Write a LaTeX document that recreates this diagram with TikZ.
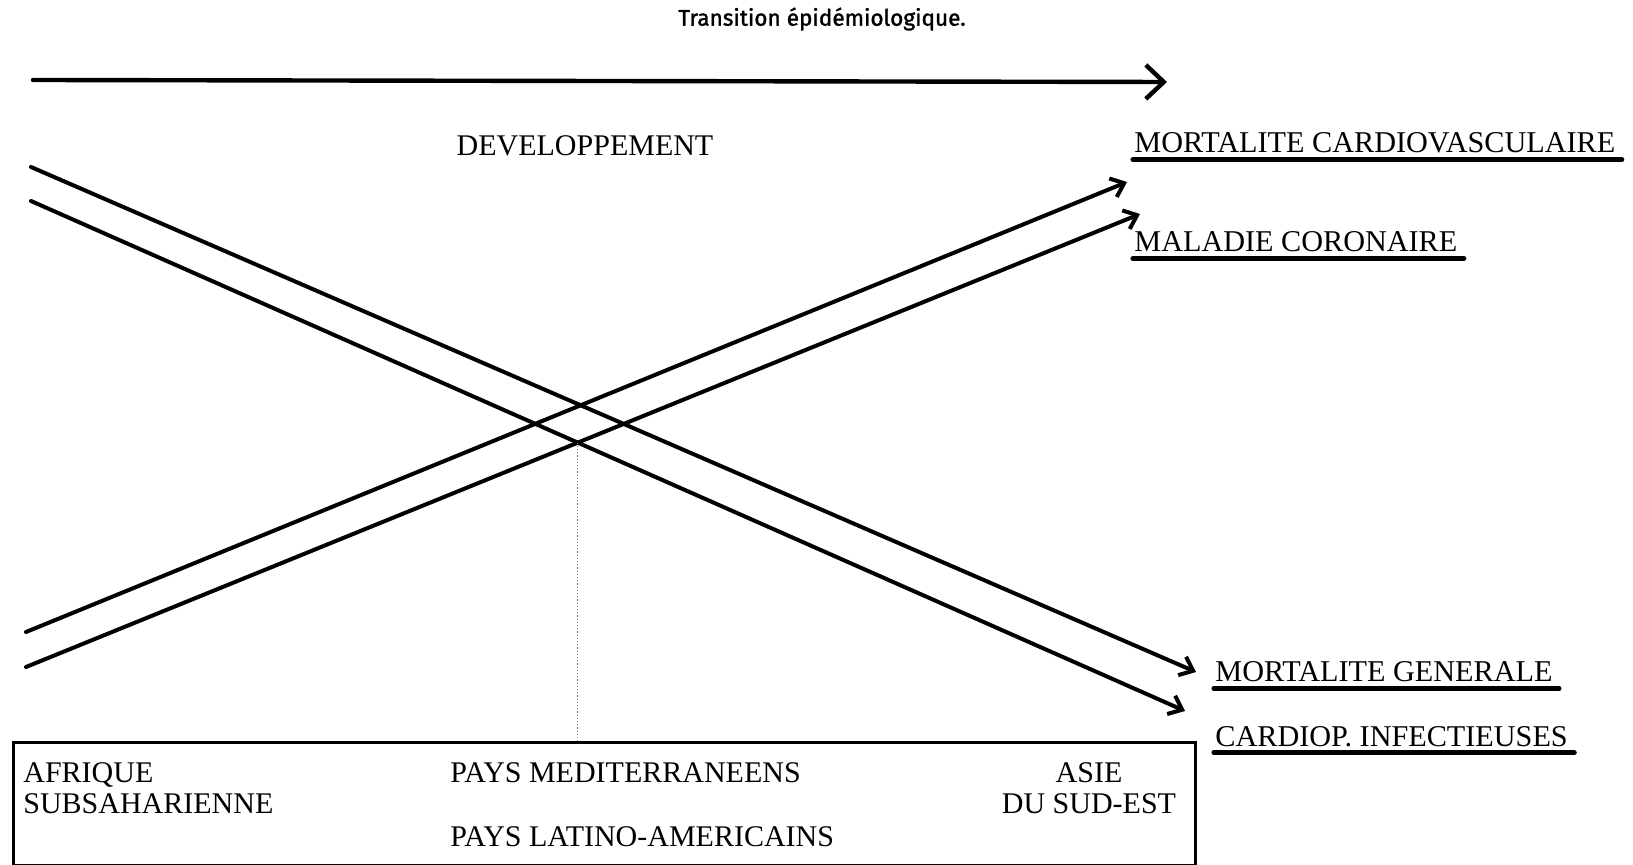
\documentclass[tikz,border=0pt]{standalone}
\usepackage{fontspec}
\setmainfont{Liberation Serif}
\newfontfamily\titlefont[FakeBold=1.4]{Fira Sans}
\usetikzlibrary{arrows.meta}
\usetikzlibrary{calc}

\begin{document}
\begin{tikzpicture}[x=0.5pt,y=-0.5pt,
        trend/.style={line width=2pt, line cap=round, -{Straight Barb[length=6pt,width=10pt]}},
        endlabel/.style={inner sep=0pt, anchor=base west, font=\fontsize{15.1}{15.5}\selectfont},
        regionlabel/.style={inner sep=0pt, font=\fontsize{15}{15.5}\selectfont},
        underline/.style={line width=2.6pt, line cap=round}]
        \newcommand{\transulshift}{-3.3pt}
        \useasboundingbox (0,0) rectangle (1633,865);
        % title and development axis
        \node[inner sep=0pt, font=\titlefont\fontsize{11.3}{12}\selectfont] (title) at (822,19) {Transition épidémiologique.};
        \coordinate (devstart) at (33,80);
        \coordinate (devend) at (1167,82);
        \draw[line width=2.2pt, line cap=round, -{Straight Barb[length=9pt,width=17pt]}] (devstart) -- (devend);
        \node[regionlabel, anchor=base] (dev) at (585,156) {DEVELOPPEMENT};
        % right hand labels
        \node[endlabel] (cardio) at (1134,153) {MORTALITE CARDIOVASCULAIRE};
        \node[endlabel] (coro) at (1134,252) {MALADIE CORONAIRE};
        \node[endlabel] (gen) at (1215,682) {MORTALITE GENERALE};
        \node[endlabel] (infect) at (1215,746) {CARDIOP. INFECTIEUSES};
        \foreach \lab in {cardio,coro,gen,infect}
            \draw[underline] ([xshift=-0.5pt,yshift=\transulshift]\lab.base west) -- ([xshift=3pt,yshift=\transulshift]\lab.base east);
        % the four trends
        \coordinate (cardiostart) at (26,632);
        \coordinate (cardioend) at (1127,182);
        \coordinate (corostart) at (26,667);
        \coordinate (coroend) at (1140,214);
        \coordinate (genstart) at (31,167);
        \coordinate (genend) at (1196,672);
        \coordinate (infectstart) at (31,201);
        \coordinate (infectend) at (1185,711);
        \draw[trend] (cardiostart) -- (cardioend);
        \draw[trend] (corostart) -- (coroend);
        \draw[trend] (genstart) -- (genend);
        \draw[trend] (infectstart) -- (infectend);
        % regions box
        \node[draw, line width=1.6pt, anchor=north west, inner sep=0pt, minimum width=591pt, minimum height=61.5pt] (regions) at (12,741) {};
        \coordinate (cross) at (intersection of infectstart--infectend and corostart--coroend);
        \draw[densely dotted, gray, line width=0.6pt] (cross) -- (cross |- regions.north);
        \node[regionlabel, anchor=north west, align=left] (afrique) at (23,762) {AFRIQUE\\SUBSAHARIENNE};
        \node[regionlabel, anchor=base west] (medit) at (450,782) {PAYS MEDITERRANEENS};
        \node[regionlabel, anchor=base west] (latino) at (450,846) {PAYS LATINO-AMERICAINS};
        \node[regionlabel, anchor=north, align=center] (asie) at (1089,762) {ASIE\\DU SUD-EST};
    \end{tikzpicture}
\end{document}
